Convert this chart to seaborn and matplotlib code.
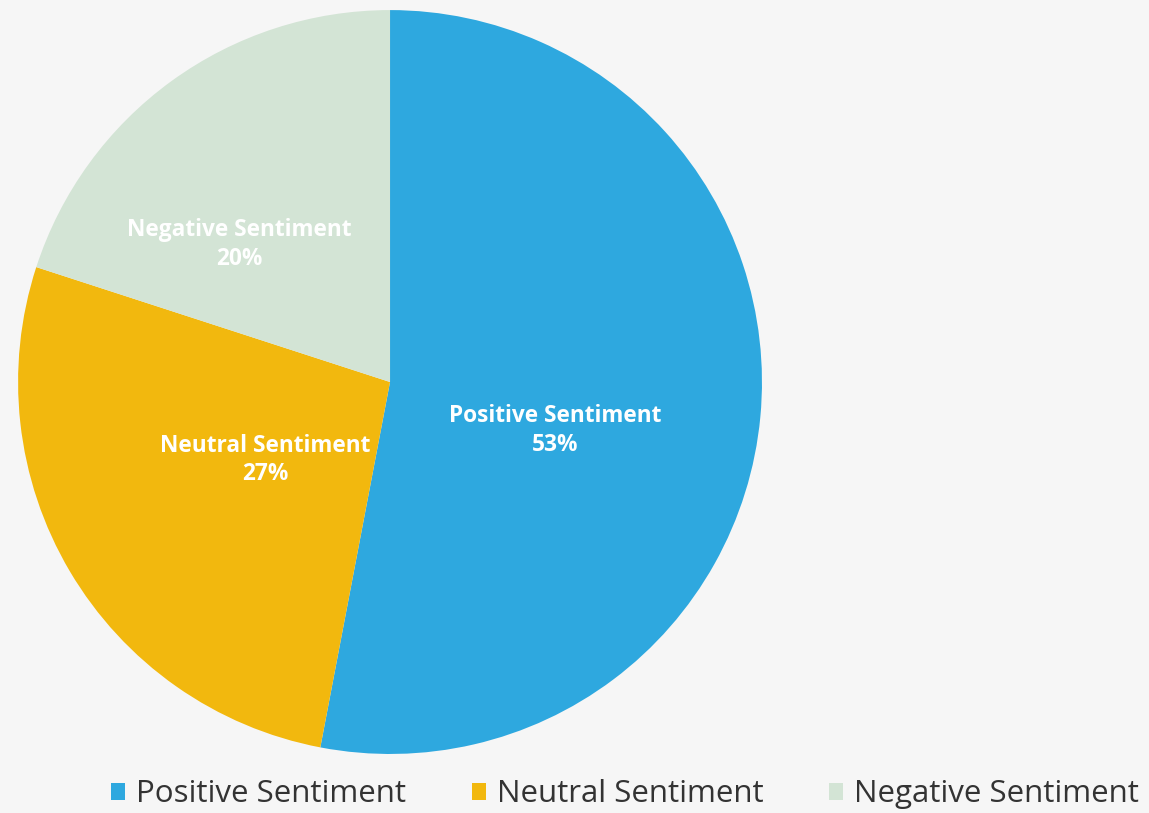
import matplotlib
matplotlib.use("Agg")
import matplotlib.pyplot as plt
import seaborn as sns
from matplotlib.patches import Patch

sns.set_theme(style="white")
plt.rcParams['font.family'] = ['Open Sans', 'DejaVu Sans']

categories = ["Positive Sentiment", "Neutral Sentiment", "Negative Sentiment"]
values = [53, 27, 20]
colors = ["#2ea8df", "#f2b80e", "#d3e4d5"]
# label anchor positions (axes data units, pie radius = 1)
label_pos = [(0.444, -0.13), (-0.336, -0.21), (-0.405, 0.37)]

fig = plt.figure(figsize=(11.49, 8.13), dpi=100)
fig.patch.set_facecolor("#f6f6f6")
ax = fig.add_axes([0.0157, 0.0726, 0.6475, 0.915])
ax.set_facecolor("#f6f6f6")

wedges, texts, autotexts = ax.pie(values, colors=colors, startangle=90, counterclock=False,
                                  autopct=lambda p: "", pctdistance=0.47, radius=1.0,
                                  wedgeprops=dict(linewidth=0))
for t, name, v, pos in zip(autotexts, categories, values, label_pos):
    t.set_text(f"{name}\n{v}%")
    t.set_color("white")
    t.set_fontsize(16.3)
    t.set_fontweight("bold")
    t.set_linespacing(1.25)
    t.set_position(pos)
ax.set_xlim(-1, 1)
ax.set_ylim(-1, 1)
ax.set_aspect("equal")

handles = [Patch(facecolor=c, edgecolor="none") for c in colors]
fig.legend(handles, categories, loc="lower center", bbox_to_anchor=(0.544, -0.03), ncol=3,
           frameon=False, fontsize=22.5, handlelength=0.45, handleheight=0.45,
           handletextpad=0.35, columnspacing=2.1, labelcolor="#333333")

fig.savefig("out.png", dpi=100, facecolor=fig.get_facecolor())
